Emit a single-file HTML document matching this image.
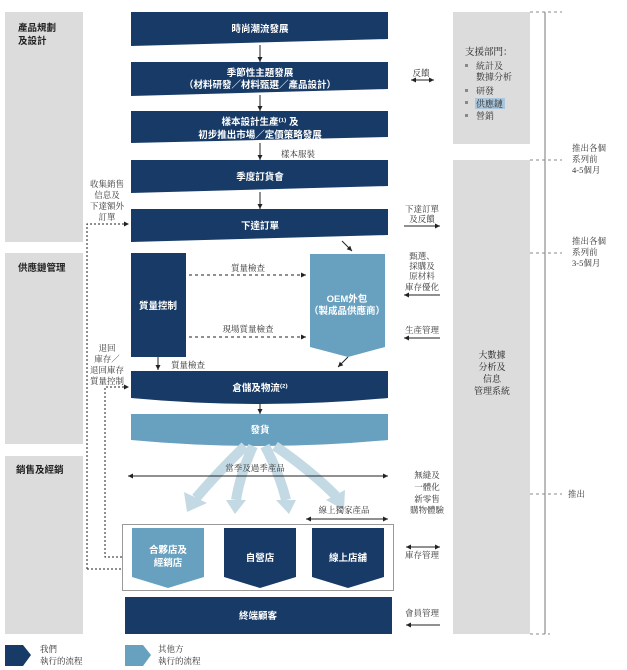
<!DOCTYPE html>
<html><head><meta charset="utf-8"><style>
html,body{margin:0;padding:0;background:#fff;}
svg{display:block;font-family:"Liberation Serif","Noto Serif CJK SC","Noto Sans CJK TC",serif;}
.w{fill:#fff;font-family:"Liberation Sans","Noto Sans CJK TC",sans-serif;font-weight:bold;font-size:9.5px;text-anchor:middle;}
.t{fill:#333;font-size:8.5px;text-anchor:middle;}
.l{fill:#222;font-family:"Liberation Sans","Noto Sans CJK TC",sans-serif;font-weight:bold;font-size:9.5px;}
</style></head><body>
<svg width="627" height="670" viewBox="0 0 627 670" xmlns="http://www.w3.org/2000/svg">
<defs>
<marker id="a" markerWidth="6" markerHeight="6" refX="5" refY="3" orient="auto"><path d="M0,0.5 L5,3 L0,5.5z" fill="#222"/></marker>
<marker id="b" markerWidth="6" markerHeight="6" refX="1" refY="3" orient="auto"><path d="M6,0.5 L1,3 L6,5.5z" fill="#222"/></marker>
</defs>
<rect x="5" y="12" width="78" height="230" fill="#dcdcdc"/>
<rect x="5" y="253" width="78" height="191" fill="#dcdcdc"/>
<rect x="5" y="456" width="78" height="178" fill="#dcdcdc"/>
<text class="l" x="18" y="31">產品規劃</text><text class="l" x="18" y="44">及設計</text>
<text class="l" x="18" y="271">供應鏈管理</text>
<text class="l" x="16" y="473">銷售及經銷</text>
<rect x="453" y="12" width="77" height="132" fill="#dcdcdc"/>
<rect x="453" y="160" width="77" height="474" fill="#dcdcdc"/>
<text x="465" y="55" style="font-size:9.5px;fill:#222">支援部門：</text>
<g style="font-size:9px;fill:#333">
<rect x="465" y="64" width="3" height="3" fill="#888"/><text x="476" y="69">統計及</text><text x="476" y="80">數據分析</text>
<rect x="465" y="89" width="3" height="3" fill="#888"/><text x="476" y="94">研發</text>
<rect x="465" y="101" width="3" height="3" fill="#888"/><rect x="475" y="98" width="30" height="11" fill="#a9c6dc"/><text x="476" y="107">供應鏈</text>
<rect x="465" y="114" width="3" height="3" fill="#888"/><text x="476" y="119">營銷</text>
</g>
<g class="t" style="font-size:9px;fill:#222"><text x="492" y="358">大數據</text><text x="492" y="370">分析及</text><text x="492" y="382">信息</text><text x="492" y="394">管理系統</text></g>
<line x1="545" y1="12" x2="545" y2="634" stroke="#777" stroke-width="1"/>
<g stroke="#888" stroke-dasharray="3,3"><line x1="530" y1="12" x2="562" y2="12"/><line x1="530" y1="160" x2="562" y2="160"/><line x1="530" y1="253" x2="562" y2="253"/><line x1="530" y1="494" x2="562" y2="494"/><line x1="530" y1="634" x2="550" y2="634"/></g>
<g style="font-size:8.5px;fill:#333"><text x="572" y="151">推出各個</text><text x="572" y="162">系列前</text><text x="572" y="173">4-5個月</text>
<text x="572" y="244">推出各個</text><text x="572" y="255">系列前</text><text x="572" y="266">3-5個月</text><text x="568" y="497">推出</text></g>
<path d="M131,12 H388 V39 L131,46z" fill="#173a67"/><text class="w" x="260" y="32">時尚潮流發展</text>
<path d="M131,62 H388 V89 L131,96z" fill="#173a67"/><text class="w" x="260" y="76">季節性主題發展</text><text class="w" x="260" y="88">（材料研發／材料甄選／產品設計）</text>
<path d="M131,111 H388 V137 L131,143z" fill="#173a67"/><text class="w" x="260" y="125">樣本設計生產⁽¹⁾ 及</text><text class="w" x="260" y="138">初步推出市場／定價策略發展</text>
<path d="M131,160 H388 V186 L131,193z" fill="#173a67"/><text class="w" x="260" y="180">季度訂貨會</text>
<path d="M131,209 H388 V235 L131,242z" fill="#173a67"/><text class="w" x="260" y="229">下達訂單</text>
<g stroke="#222" stroke-width="1" marker-end="url(#a)"><line x1="260" y1="45" x2="260" y2="62"/><line x1="260" y1="95" x2="260" y2="111"/><line x1="260" y1="143" x2="260" y2="160"/><line x1="260" y1="192" x2="260" y2="209"/>
<line x1="342" y1="241" x2="352" y2="251"/><line x1="348" y1="357" x2="338" y2="367"/><line x1="158" y1="357" x2="158" y2="370"/><line x1="260" y1="403" x2="260" y2="414"/></g>
<text class="t" x="298" y="157">樣本服裝</text>
<rect x="131" y="253" width="55" height="104" fill="#173a67"/><text class="w" x="158" y="309">質量控制</text>
<path d="M310,254 H385 V347 L348,357 L310,347z" fill="#68a0bf"/><text class="w" x="347" y="302">OEM外包</text><text class="w" x="347" y="314">（製成品供應商）</text>
<g stroke="#222" stroke-dasharray="3,3" fill="none"><line x1="189" y1="275" x2="306" y2="275" marker-end="url(#a)"/><line x1="189" y1="337" x2="306" y2="337" marker-end="url(#a)"/></g>
<text class="t" x="248" y="271">質量檢查</text><text class="t" x="248" y="332">現場質量檢查</text><text class="t" x="188" y="368">質量檢查</text>
<path d="M131,371 H388 V398 Q260,410 131,398z" fill="#173a67"/><text class="w" x="260" y="391">倉儲及物流⁽²⁾</text>
<path d="M131,414 H388 V440 Q260,452 131,440z" fill="#68a0bf"/><text class="w" x="260" y="433">發貨</text>
<g fill="none" stroke="#c3d9e4" stroke-width="10">
<path d="M245,446 Q220,470 196,498"/><path d="M253,446 Q240,475 236,500"/><path d="M265,446 Q280,475 286,500"/><path d="M275,446 Q310,470 336,496"/></g>
<g fill="#c3d9e4"><path d="M184,492 L207,503 L187,512z"/><path d="M226,500 L246,500 L235,514z"/><path d="M276,500 L296,500 L289,514z"/><path d="M326,500 L345,490 L344,510z"/></g>
<line x1="128" y1="476" x2="388" y2="476" stroke="#222" marker-end="url(#a)" marker-start="url(#b)"/>
<text class="t" x="255" y="471">當季及過季產品</text>
<line x1="306" y1="519" x2="388" y2="519" stroke="#222" marker-end="url(#a)" marker-start="url(#b)"/>
<text class="t" x="344" y="513">線上獨家產品</text>
<rect x="122.5" y="524.5" width="271" height="66" fill="none" stroke="#999"/>
<path d="M132,528 H204 V577 L168,588 L132,577z" fill="#68a0bf"/><text class="w" x="168" y="553">合夥店及</text><text class="w" x="168" y="566">經銷店</text>
<path d="M224,528 H296 V577 L260,588 L224,577z" fill="#173a67"/><text class="w" x="260" y="561">自營店</text>
<path d="M312,528 H384 V577 L348,588 L312,577z" fill="#173a67"/><text class="w" x="348" y="561">線上店舖</text>
<rect x="125" y="597" width="267" height="37" fill="#173a67"/><text class="w" x="258" y="619">終端顧客</text>
<g stroke="#222" stroke-dasharray="2,2" fill="none"><path d="M87,569 V224 H129" marker-end="url(#a)"/><path d="M87,569 H122"/><path d="M122,557 H105 V387 H129" marker-end="url(#a)"/></g>
<g class="t"><text x="107" y="187">收集銷售</text><text x="107" y="198">信息及</text><text x="107" y="209">下達額外</text><text x="107" y="220">訂單</text>
<text x="107" y="351">退回</text><text x="107" y="362">庫存／</text><text x="107" y="373">退回庫存</text><text x="107" y="384">質量控制</text></g>
<g class="t"><text x="421" y="76">反饋</text><text x="422" y="212">下達訂單</text><text x="422" y="222">及反饋</text>
<text x="422" y="259">甄選、</text><text x="422" y="269">採購及</text><text x="422" y="279">原材料</text><text x="422" y="290">庫存優化</text>
<text x="422" y="333">生產管理</text>
<text x="427" y="478">無縫及</text><text x="427" y="490">一體化</text><text x="427" y="502">新零售</text><text x="427" y="513">購物體驗</text>
<text x="422" y="558">庫存管理</text><text x="422" y="616">會員管理</text></g>
<g stroke="#222"><line x1="411" y1="80" x2="434" y2="80" marker-end="url(#a)" marker-start="url(#b)"/>
<line x1="404" y1="226" x2="440" y2="226" marker-end="url(#a)"/>
<line x1="440" y1="295" x2="404" y2="295" marker-end="url(#a)"/>
<line x1="440" y1="338" x2="404" y2="338" marker-end="url(#a)"/>
<line x1="406" y1="547" x2="440" y2="547" marker-end="url(#a)" marker-start="url(#b)"/>
<line x1="440" y1="625" x2="406" y2="625" marker-end="url(#a)"/></g>
<path d="M5,645 H23 L31,655 L23,666 H5z" fill="#173a67"/>
<path d="M125,645 H143 L151,655 L143,666 H125z" fill="#68a0bf"/>
<g style="font-size:8.5px;fill:#333"><text x="40" y="652">我們</text><text x="40" y="664">執行的流程</text><text x="158" y="652">其他方</text><text x="158" y="664">執行的流程</text></g>
</svg>
</body></html>
